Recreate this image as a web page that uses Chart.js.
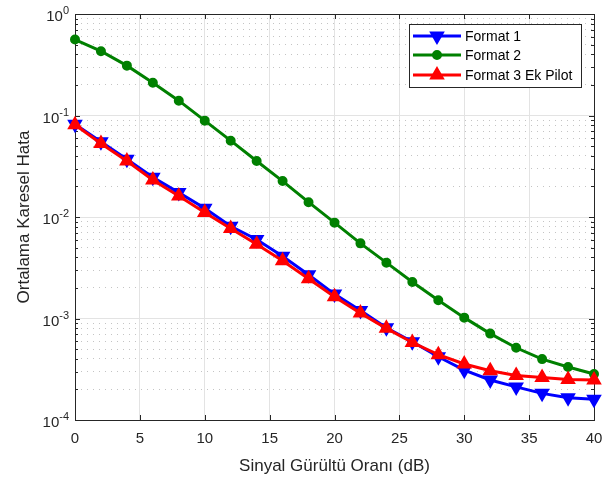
<!DOCTYPE html>
<html>
<head>
<meta charset="utf-8">
<script src="https://cdn.jsdelivr.net/npm/chart.js@4/dist/chart.umd.min.js"></script>
<style>
  html, body { margin: 0; padding: 0; background: #fff; }
  canvas { display: block; }
</style>
</head>
<body>
<canvas id="chart" width="614" height="477"></canvas>
<script>
// ── DATA ─────────────────────────────────────────────────────────────────────
const snr = [0, 2, 4, 6, 8, 10, 12, 14, 16, 18, 20, 22, 24, 26, 28, 30, 32, 34, 36, 38, 40];

const format1 = [0.082, 0.055, 0.037, 0.0246, 0.0174, 0.0122, 0.0081, 0.0060, 0.0041, 0.0027,
  0.00174, 0.00120, 0.00081, 0.00059, 0.00042, 0.00031, 0.000248, 0.000212, 0.000183, 0.000166, 0.00016];
const format2 = [0.56, 0.43, 0.31, 0.21, 0.14, 0.089, 0.0565, 0.0356, 0.0226, 0.014,
  0.0088, 0.0055, 0.00355, 0.00229, 0.00151, 0.00102, 0.00071, 0.000515, 0.000398, 0.000333, 0.000284];
const format3 = [0.081, 0.053, 0.0356, 0.0232, 0.0161, 0.0111, 0.0077, 0.0054, 0.0037, 0.00247,
  0.00164, 0.00113, 0.0008, 0.00058, 0.00044, 0.000356, 0.000306, 0.000275, 0.000262, 0.000251, 0.000248];

const seriesLabels = ['Format 1', 'Format 2', 'Format 3 Ek Pilot'];
const xTicks = [0, 5, 10, 15, 20, 25, 30, 35, 40];
const yDecades = [-4, -3, -2, -1, 0];
const minorMult = [2, 3, 4, 5, 6, 7, 8, 9];

const FONT = '"Liberation Sans", Arial, Helvetica, sans-serif';
const AXIS = '#262626';

// y grid values: every decade plus its minors
const yGrid = [];
yDecades.forEach(e => {
  yGrid.push(Math.pow(10, e));
  if (e < 0) minorMult.forEach(m => yGrid.push(m * Math.pow(10, e)));
});

function isMajor(v) {
  const l = Math.log10(v);
  return Math.abs(l - Math.round(l)) < 1e-9;
}

// ── PLUGIN: box, inward ticks, y labels, legend ─────────────────────────────
const matlabAxes = {
  id: 'matlabAxes',
  beforeDatasetsDraw(chart) {
    const { ctx, chartArea: a, scales: { x, y } } = chart;
    ctx.save();
    ctx.strokeStyle = AXIS;
    ctx.lineWidth = 1;
    ctx.beginPath();
    xTicks.forEach(v => {
      const px = Math.round(x.getPixelForValue(v)) + 0.5;
      ctx.moveTo(px, a.bottom); ctx.lineTo(px, a.bottom - 5);
      ctx.moveTo(px, a.top); ctx.lineTo(px, a.top + 5);
    });
    yGrid.forEach(v => {
      const py = Math.round(y.getPixelForValue(v)) + 0.5;
      const len = isMajor(v) ? 5 : 3;
      ctx.moveTo(a.left, py); ctx.lineTo(a.left + len, py);
      ctx.moveTo(a.right, py); ctx.lineTo(a.right - len, py);
    });
    ctx.stroke();
    ctx.strokeRect(Math.round(a.left) + 0.5, Math.round(a.top) + 0.5,
      Math.round(a.right - a.left), Math.round(a.bottom - a.top));

    // y labels 10^n
    ctx.fillStyle = AXIS;
    ctx.textBaseline = 'middle';
    yDecades.forEach(e => {
      const py = y.getPixelForValue(Math.pow(10, e));
      const exp = String(e);
      ctx.font = '11px ' + FONT;
      const ew = ctx.measureText(exp).width;
      const right = a.left - 6;
      ctx.textAlign = 'left';
      ctx.fillText(exp, right - ew, py - 3);
      ctx.font = '15px ' + FONT;
      ctx.textAlign = 'right';
      ctx.fillText('10', right - ew, py + 3);
    });
    ctx.restore();
  },
  afterDraw(chart) {
    const { ctx } = chart;
    const box = { l: 409, t: 24, r: 581, b: 87 };
    const rows = [36, 55, 75];
    ctx.save();
    ctx.fillStyle = '#fff';
    ctx.fillRect(box.l, box.t, box.r - box.l, box.b - box.t);
    ctx.strokeStyle = AXIS;
    ctx.lineWidth = 1;
    ctx.strokeRect(box.l + 0.5, box.t + 0.5, box.r - box.l, box.b - box.t);
    chart.data.datasets.forEach((ds, i) => {
      const yy = rows[i];
      ctx.strokeStyle = ds.borderColor;
      ctx.lineWidth = ds.borderWidth;
      ctx.beginPath();
      ctx.moveTo(413, yy); ctx.lineTo(461, yy);
      ctx.stroke();
      ctx.fillStyle = ds.pointBackgroundColor;
      ctx.strokeStyle = ds.pointBorderColor;
      ctx.lineWidth = ds.pointBorderWidth;
      Chart.helpers.drawPoint(ctx, {
        pointStyle: ds.pointStyle, radius: ds.pointRadius,
        rotation: ds.pointRotation || 0, borderWidth: ds.pointBorderWidth
      }, 437, yy);
      ctx.fillStyle = '#000';
      ctx.font = '14px ' + FONT;
      ctx.textAlign = 'left';
      ctx.textBaseline = 'middle';
      ctx.fillText(seriesLabels[i], 465, yy + 1);
    });
    ctx.restore();
  }
};

function mkPoints(vals) { return snr.map((s, i) => ({ x: s, y: vals[i] })); }

new Chart(document.getElementById('chart'), {
  type: 'line',
  data: {
    datasets: [
      {
        label: seriesLabels[0], data: mkPoints(format1), order: 3,
        borderColor: '#0000ff', borderWidth: 3,
        pointStyle: 'triangle', pointRotation: 180, pointRadius: 6.5,
        pointBorderWidth: 2.5, pointBorderColor: '#0000ff', pointBackgroundColor: '#0000ff',
        clip: false,
      },
      {
        label: seriesLabels[1], data: mkPoints(format2), order: 2,
        borderColor: '#008000', borderWidth: 3,
        pointStyle: 'circle', pointRadius: 4,
        pointBorderWidth: 2, pointBorderColor: '#008000', pointBackgroundColor: '#008000',
        clip: false,
      },
      {
        label: seriesLabels[2], data: mkPoints(format3), order: 1,
        borderColor: '#ff0000', borderWidth: 3,
        pointStyle: 'triangle', pointRotation: 0, pointRadius: 6.5,
        pointBorderWidth: 2.5, pointBorderColor: '#ff0000', pointBackgroundColor: '#ff0000',
        clip: false,
      },
    ],
  },
  options: {
    responsive: false, animation: false,
    layout: { padding: { left: 0, right: 20, top: 14, bottom: 0 } },
    plugins: { legend: { display: false }, tooltip: { enabled: false } },
    scales: {
      x: {
        type: 'linear', min: 0, max: 40,
        afterBuildTicks(s) { s.ticks = xTicks.map(v => ({ value: v })); },
        afterFit(s) { s.height = 57; },
        ticks: { color: AXIS, font: { size: 15, family: FONT }, padding: 10 },
        grid: { color: '#e3e3e3', drawTicks: false },
        border: { display: false },
        title: {
          display: true, text: 'Sinyal Gürültü Oranı (dB)', color: AXIS,
          font: { size: 17, family: FONT }, padding: { top: 6, bottom: 0 },
        },
      },
      y: {
        type: 'logarithmic', min: 1e-4, max: 1,
        afterBuildTicks(s) { s.ticks = yGrid.map(v => ({ value: v })); },
        afterFit(s) { s.width = 75; },
        ticks: { display: false },
        grid: {
          drawTicks: false,
          color: c => (c.tick && isMajor(c.tick.value)) ? '#e3e3e3' : '#c4c4c4',
        },
        border: {
          display: false,
          dash: c => (c.tick && !isMajor(c.tick.value)) ? [1, 5] : [],
        },
        title: {
          display: true, text: 'Ortalama Karesel Hata', color: AXIS,
          font: { size: 17, family: FONT }, padding: { top: 14, bottom: 0 },
        },
      },
    },
  },
  plugins: [matlabAxes],
});
</script>
</body>
</html>
